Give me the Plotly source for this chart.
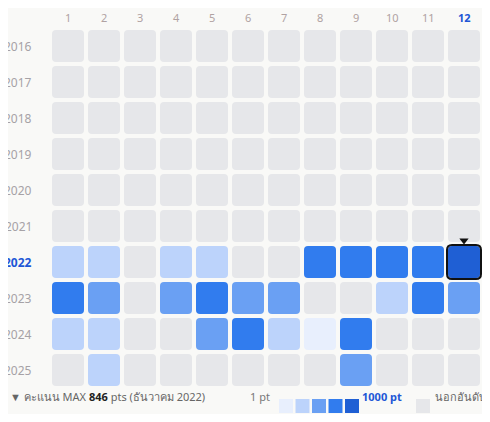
import plotly.graph_objects as go

years = [2016, 2017, 2018, 2019, 2020, 2021, 2022, 2023, 2024, 2025]
months = list(range(1, 13))
# score level per month (0 = not ranked, 1..5 = 1 pt .. 1000 pt)
levels = {
    2016: [0] * 12,
    2017: [0] * 12,
    2018: [0] * 12,
    2019: [0] * 12,
    2020: [0] * 12,
    2021: [0] * 12,
    2022: [2, 2, 0, 2, 2, 0, 0, 4, 4, 4, 4, 5],
    2023: [4, 3, 0, 3, 4, 3, 3, 0, 0, 2, 4, 3],
    2024: [2, 2, 0, 0, 3, 4, 2, 1, 4, 0, 0, 0],
    2025: [0, 2, 0, 0, 0, 0, 0, 0, 3, 0, 0, 0],
}
palette = ['#e6e7ea', '#e8effd', '#bcd3fb', '#6aa0f3', '#317cee', '#1f5fd4']
selected_year, selected_month = 2022, 12
footer_left = '▼ คะแนน MAX <b style="color:#222">846</b> pts (ธันวาคม 2022)'

# the page body adds an 8px margin, so the figure is 16px smaller and shifted
OFF = 8
W, H = 490 - 2 * OFF, 422 - 2 * OFF
PITCH = 36
X0, Y0 = 68 - OFF, 46 - OFF  # pixel centre of first cell


def rounded(cx, cy, h, r):
    return (f'M{cx-h+r},{cy-h} L{cx+h-r},{cy-h} Q{cx+h},{cy-h} {cx+h},{cy-h+r} '
            f'L{cx+h},{cy+h-r} Q{cx+h},{cy+h} {cx+h-r},{cy+h} L{cx-h+r},{cy+h} '
            f'Q{cx-h},{cy+h} {cx-h},{cy+h-r} L{cx-h},{cy-h+r} Q{cx-h},{cy-h} {cx-h+r},{cy-h} Z')


def px(x):
    return (x - OFF) / W


def py(y):
    return 1 - (y - OFF) / H


fig = go.Figure()
shapes = []
annotations = []
u = 1 / PITCH
for r, yr in enumerate(years):
    for m in months:
        lv = levels[yr][m - 1]
        shapes.append(dict(type='path', xref='x', yref='y', path=rounded(m, r, 16 * u, 4 * u),
                           fillcolor=palette[lv], line=dict(width=0), layer='below'))
        if yr == selected_year and m == selected_month:
            shapes.append(dict(type='path', xref='x', yref='y', path=rounded(m, r, 17 * u, 5 * u),
                               fillcolor='rgba(0,0,0,0)', line=dict(color='#111', width=2)))
    sel = yr == selected_year
    annotations.append(dict(x=0.05, y=r, xref='x', yref='y', text=f'<b>{yr}</b>' if sel else str(yr),
                            showarrow=False, xanchor='right',
                            font=dict(size=12, color='#2156d6' if sel else '#a6a2a6')))
for m in months:
    sel = m == selected_month
    annotations.append(dict(x=m, y=-0.8, xref='x', yref='y', text=f'<b>{m}</b>' if sel else str(m),
                            showarrow=False, font=dict(size=11, color='#2156d6' if sel else '#b0a2a2')))

fig.add_trace(go.Scatter(x=[selected_month], y=[years.index(selected_year) - 0.6], mode='markers',
                         marker=dict(symbol='triangle-down', size=8, color='#111'), hoverinfo='skip'))

# footer
fy = py(406)
annotations.append(dict(x=px(8), y=fy, xref='paper', yref='paper', text=footer_left, showarrow=False,
                        xanchor='left', font=dict(size=11, color='#666')))
annotations.append(dict(x=px(272), y=fy, xref='paper', yref='paper', text='1 pt', showarrow=False,
                        xanchor='right', font=dict(size=11, color='#777')))
for i, c in enumerate(palette[1:]):
    x0 = 279 + i * 16.5
    shapes.append(dict(type='rect', xref='paper', yref='paper', x0=px(x0), x1=px(x0 + 14),
                       y0=py(413), y1=py(399), fillcolor=c, line=dict(width=0)))
annotations.append(dict(x=px(360), y=fy, xref='paper', yref='paper', text='<b>1000 pt</b>', showarrow=False,
                        xanchor='left', font=dict(size=11, color='#2156d6')))
shapes.append(dict(type='rect', xref='paper', yref='paper', x0=px(416), x1=px(430),
                   y0=py(413), y1=py(399), fillcolor=palette[0], line=dict(width=0)))
annotations.append(dict(x=px(433), y=fy, xref='paper', yref='paper', text='นอกอันดับ', showarrow=False,
                        xanchor='left', font=dict(size=11, color='#666')))

fig.update_layout(
    width=W, height=H, margin=dict(l=0, r=0, t=0, b=0),
    paper_bgcolor='#f9f9f7', plot_bgcolor='#f9f9f7',
    font=dict(family='Noto Sans, sans-serif'),
    showlegend=False, shapes=shapes, annotations=annotations,
    xaxis=dict(range=[1 - X0 / PITCH, 1 + (W - X0) / PITCH], visible=False, fixedrange=True),
    yaxis=dict(range=[(H - Y0) / PITCH, -Y0 / PITCH], visible=False, fixedrange=True),
)
fig.write_html('out.html')
